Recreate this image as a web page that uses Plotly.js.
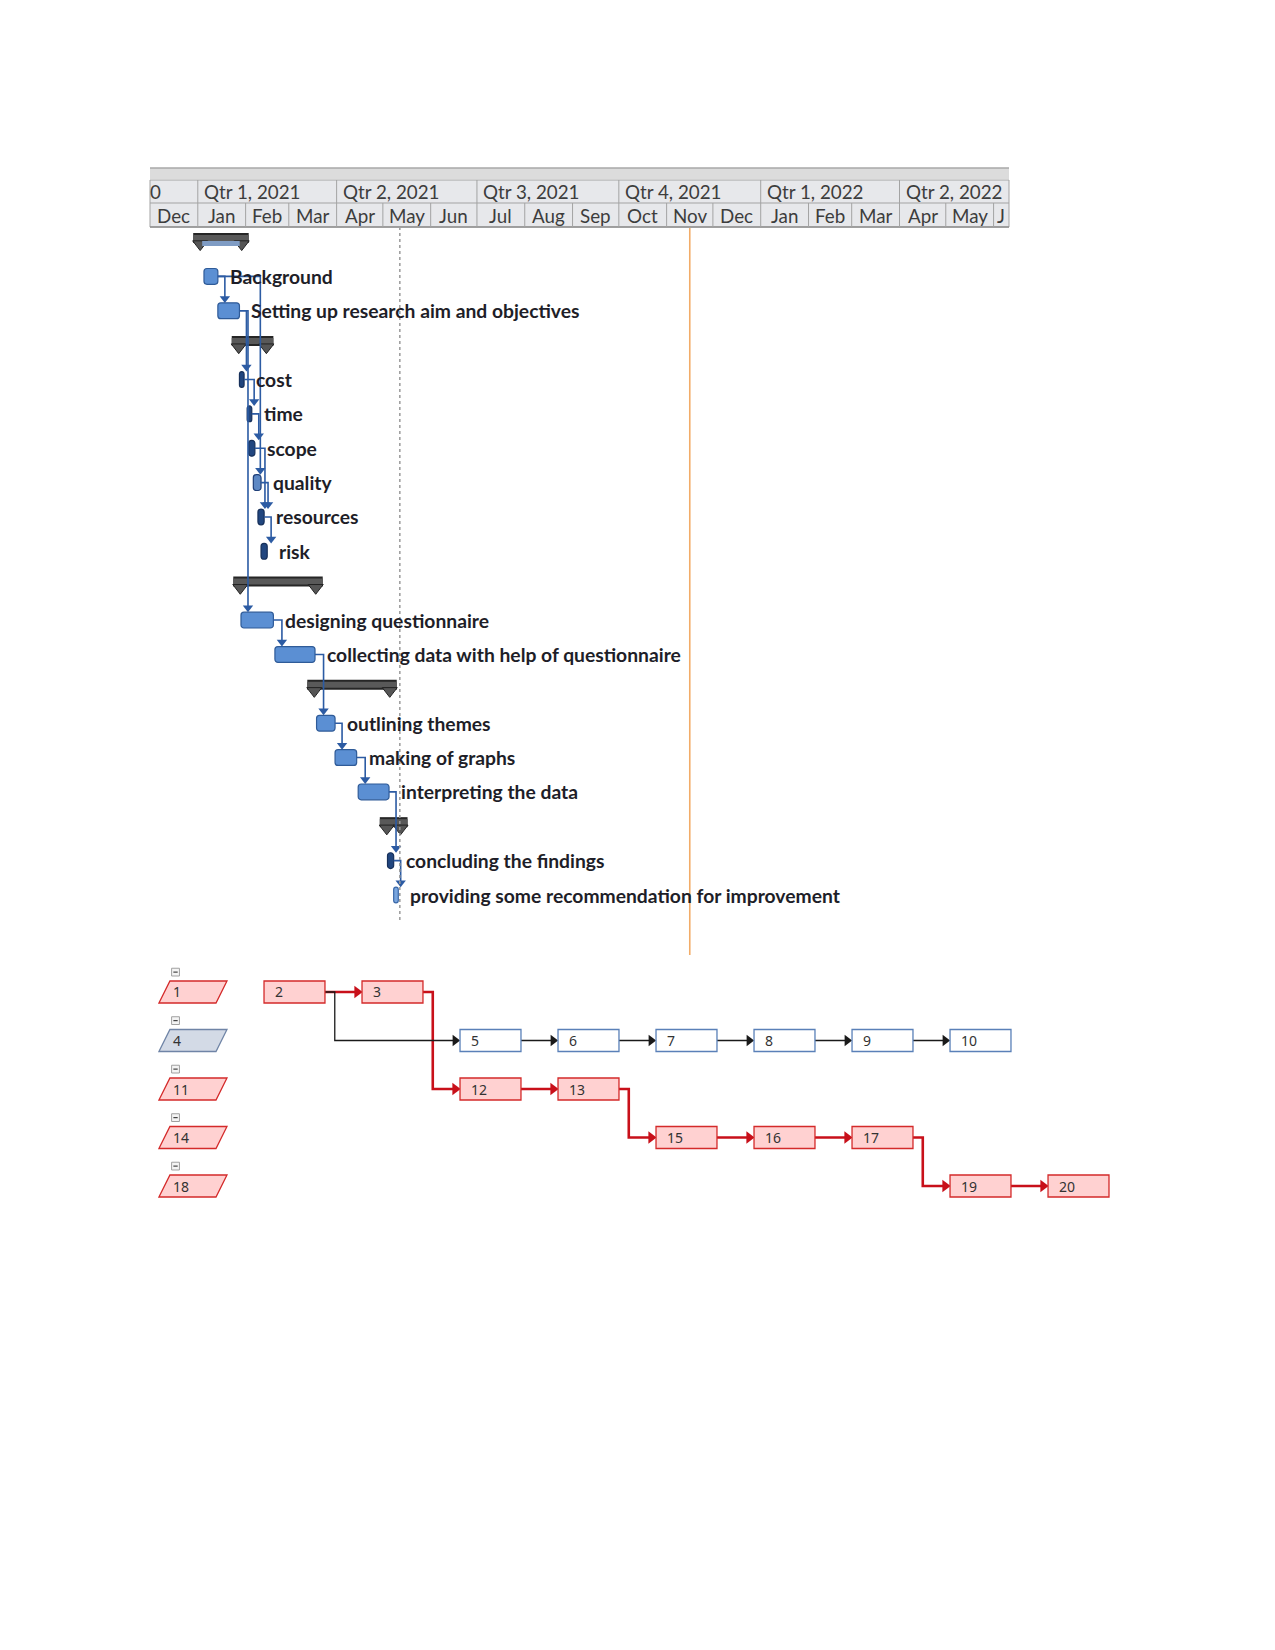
<!DOCTYPE html>
<html><head><meta charset="utf-8">
<script src="https://cdn.plot.ly/plotly-3.0.1.min.js"></script>
<style>html,body{margin:0;padding:0;background:#fff}#chart{width:1275px;height:1650px}</style>
</head><body><div id="chart"></div>
<script>
// ---------------- timescale ----------------
const viewStart = '2020-12-01';
const viewEnd = '2022-06-11';
const quarterStarts = ['2020-10-01','2021-01-01','2021-04-01','2021-07-01','2021-10-01','2022-01-01','2022-04-01','2022-07-01'];
const quarterLabels = ['0','Qtr 1, 2021','Qtr 2, 2021','Qtr 3, 2021','Qtr 4, 2021','Qtr 1, 2022','Qtr 2, 2022'];
const monthStarts = ['2020-12-01','2021-01-01','2021-02-01','2021-03-01','2021-04-01','2021-05-01','2021-06-01','2021-07-01','2021-08-01','2021-09-01','2021-10-01','2021-11-01','2021-12-01','2022-01-01','2022-02-01','2022-03-01','2022-04-01','2022-05-01','2022-06-01','2022-07-01'];
const monthLabels = ['Dec','Jan','Feb','Mar','Apr','May','Jun','Jul','Aug','Sep','Oct','Nov','Dec','Jan','Feb','Mar','Apr','May','J'];
const statusDate = '2021-05-12';
const currentDate = '2021-11-16';

// ---------------- gantt tasks ----------------
const summaryRows  = [0, 3, 10, 13, 17];
const summaryStart = ['2020-12-29','2021-01-23','2021-01-24','2021-03-13','2021-04-29'];
const summaryEnd   = ['2021-02-03','2021-02-19','2021-03-23','2021-05-10','2021-05-17'];
const summaryProgressEnd = ['2021-02-03', null, null, null, null];

const taskRows  = [1, 2, 4, 5, 6, 7, 8, 9, 11, 12, 14, 15, 16, 18, 19];
const taskNames = ['Background','Setting up research aim and objectives','cost','time','scope','quality','resources','risk',
  'designing questionnaire','collecting data with help of questionnaire','outlining themes','making of graphs',
  'interpreting the data','concluding the findings','providing some recommendation for improvement'];
const taskStart = ['2021-01-05','2021-01-14','2021-01-28','2021-02-02','2021-02-03','2021-02-06','2021-02-09','2021-02-11',
  '2021-01-29','2021-02-20','2021-03-19','2021-03-31','2021-04-15','2021-05-04','2021-05-08'];
const taskEnd   = ['2021-01-14','2021-01-28','2021-01-31','2021-02-05','2021-02-07','2021-02-11','2021-02-13','2021-02-15',
  '2021-02-19','2021-03-18','2021-03-31','2021-04-14','2021-05-05','2021-05-08','2021-05-11'];
const taskStyle = ['std','std','dark','dark','dark','mid','dark','dark','std','std','std','std','std','dark','light'];
// links between rows (predecessor row -> successor row)
const ganttLinks = [[1,2],[1,7],[2,4],[2,11],[4,5],[5,6],[6,8],[7,8],[8,9],[11,12],[12,14],[14,15],[15,16],[16,18],[18,19]];

// ---------------- network diagram ----------------
const nodeIds  = ['1','2','3','4','5','6','7','8','9','10','11','12','13','14','15','16','17','18','19','20'];
const nodeCol  = [0, 1, 2, 0, 3, 4, 5, 6, 7, 8, 0, 3, 4, 0, 5, 6, 7, 0, 8, 9];
const nodeRow  = [0, 0, 0, 1, 1, 1, 1, 1, 1, 1, 2, 2, 2, 3, 3, 3, 3, 4, 4, 4];
const nodeKind = ['groupCrit','crit','crit','group','norm','norm','norm','norm','norm','norm',
  'groupCrit','crit','crit','groupCrit','crit','crit','crit','groupCrit','crit','crit'];
const netLinks = [['2','3',1],['2','5',0],['3','12',1],['5','6',0],['6','7',0],['7','8',0],['8','9',0],['9','10',0],
  ['12','13',1],['13','15',1],['15','16',1],['16','17',1],['17','19',1],['19','20',1]];

// ---------------- helpers ----------------
const ms = s => Date.parse(s.length === 10 ? s + 'T00:00:00Z' : s.replace(' ', 'T') + 'Z');
const ds = m => new Date(m).toISOString().slice(0, 19).replace('T', ' ');
const W = 1275, H = 1650;
const gL = 150, gR = 1009;                 // gantt x domain in px
const gTop = 226, gBot = 955;              // gantt y domain in px
const pxPerMs = (gR - gL) / (ms(viewEnd) - ms(viewStart));
const pxToMs = p => p / pxPerMs;
const py = p => 1 - p / H;

const traces = [];
const shapes = [];
const annotations = [];

// ---- header ----
const hdrFont = {family: 'Lato, "Open Sans", sans-serif', size: 18.8, color: '#3d3d3d'};
shapes.push({type:'rect', xref:'paper', yref:'paper', x0:gL/W, x1:gR/W, y0:py(179), y1:py(168), fillcolor:'#dcdcdc', line:{width:0}, layer:'below'});
shapes.push({type:'line', xref:'paper', yref:'paper', x0:gL/W, x1:gR/W, y0:py(168), y1:py(168), line:{color:'#a8a8a8', width:1.5}});
shapes.push({type:'rect', xref:'paper', yref:'paper', x0:gL/W, x1:gR/W, y0:py(227), y1:py(180), fillcolor:'#e7e8eb', line:{color:'#a3a3a3', width:1}, layer:'below'});
shapes.push({type:'line', xref:'paper', yref:'paper', x0:gL/W, x1:gR/W, y0:py(203), y1:py(203), line:{color:'#a3a3a3', width:1}});
shapes.push({type:'line', xref:'paper', yref:'paper', x0:gL/W, x1:gR/W, y0:py(227), y1:py(227), line:{color:'#8f8f8f', width:1.5}});
const vS = ms(viewStart), vE = ms(viewEnd);
for (let i = 0; i < quarterLabels.length; i++) {
  const s = ms(quarterStarts[i]);
  if (s > vS && s < vE) shapes.push({type:'line', xref:'x', yref:'paper', x0:quarterStarts[i], x1:quarterStarts[i], y0:py(203), y1:py(180), line:{color:'#a3a3a3', width:1}});
  annotations.push({xref:'x', yref:'paper', x: ds(Math.max(s, vS)), y: py(191.5), text: quarterLabels[i], showarrow:false,
    xanchor:'left', yanchor:'middle', xshift: s < vS ? -2 : 4, font: hdrFont});
}
for (let i = 0; i < monthLabels.length; i++) {
  const s = ms(monthStarts[i]), e = ms(monthStarts[i + 1]);
  if (s > vS && s < vE) shapes.push({type:'line', xref:'x', yref:'paper', x0:monthStarts[i], x1:monthStarts[i], y0:py(227), y1:py(203), line:{color:'#a3a3a3', width:1}});
  const a = Math.max(s, vS), b = Math.min(e, vE);
  annotations.push({xref:'x', yref:'paper', x: ds((a + b) / 2), y: py(215.5), text: monthLabels[i], showarrow:false,
    xanchor:'center', yanchor:'middle', font: hdrFont});
}

// ---- vertical status lines ----
shapes.push({type:'line', xref:'x', yref:'paper', x0:statusDate, x1:statusDate, y0:py(920), y1:py(228), line:{color:'#9a9a9a', width:1.5, dash:'dot'}});
shapes.push({type:'line', xref:'x', yref:'paper', x0:currentDate, x1:currentDate, y0:py(955), y1:py(228), line:{color:'#f2ac68', width:1.6}});

// ---- summary bars ----
{
  const xs = [], ys = [], cx = [], cy = [], px = [], pyy = [];
  for (let i = 0; i < summaryRows.length; i++) {
    xs.push(summaryStart[i], summaryEnd[i], null);
    ys.push(summaryRows[i] - 0.12, summaryRows[i] - 0.12, null);
    cx.push(ds(ms(summaryStart[i]) + pxToMs(7)), ds(ms(summaryEnd[i]) - pxToMs(7)));
    cy.push(summaryRows[i] + 0.06, summaryRows[i] + 0.06);
    if (summaryProgressEnd[i]) {
      px.push(ds(ms(summaryStart[i]) + pxToMs(9)), ds(ms(summaryProgressEnd[i]) - pxToMs(9)), null);
      pyy.push(summaryRows[i] + 0.04, summaryRows[i] + 0.04, null);
    }
  }
  traces.push({type:'scatter', mode:'lines', x:xs, y:ys, xaxis:'x', yaxis:'y', line:{color:'#262626', width:10}, hoverinfo:'skip'});
  traces.push({type:'scatter', mode:'lines', x:xs, y:ys, xaxis:'x', yaxis:'y', line:{color:'#595959', width:6}, hoverinfo:'skip'});
  traces.push({type:'scatter', mode:'markers', x:cx, y:cy, xaxis:'x', yaxis:'y',
    marker:{symbol:'triangle-down', size:13, color:'#555555', line:{color:'#222222', width:1}}, hoverinfo:'skip'});
  traces.push({type:'scatter', mode:'lines', x:px, y:pyy, xaxis:'x', yaxis:'y', line:{color:'#7f9cc4', width:5}, hoverinfo:'skip'});
}

// ---- links (gantt) ----
{
  const rowIdx = {};
  taskRows.forEach((r, i) => rowIdx[r] = i);
  const xs = [], ys = [], ax = [], ay = [];
  ganttLinks.forEach(([p, s]) => {
    const pi = rowIdx[p], si = rowIdx[s];
    const pe = ms(taskEnd[pi]), ss = ms(taskStart[si]);
    const vx = ds(Math.max(pe, ss) + pxToMs(7));
    xs.push(taskEnd[pi], vx, vx, null);
    ys.push(p, p, s - 0.36, null);
    ax.push(vx); ay.push(s - 0.36);
  });
  traces.push({type:'scatter', mode:'lines', x:xs, y:ys, xaxis:'x', yaxis:'y', line:{color:'#2c5ba3', width:1.6}, hoverinfo:'skip'});
  traces.push({type:'scatter', mode:'markers', x:ax, y:ay, xaxis:'x', yaxis:'y', marker:{symbol:'triangle-down', size:9, color:'#2c5ba3'}, hoverinfo:'skip'});
}

// ---- task bars ----
const barStyles = {
  std:  {fill:'#5b8fd3', line:'#2f5b98'},
  dark: {fill:'#21467f', line:'#17305a'},
  mid:  {fill:'#5d88c4', line:'#1f3f78'},
  light:{fill:'#7aa6de', line:'#3a68a8'}
};
Object.keys(barStyles).forEach(k => {
  const idx = taskStyle.map((s, i) => s === k ? i : -1).filter(i => i >= 0);
  if (!idx.length) return;
  traces.push({type:'bar', orientation:'h', xaxis:'x', yaxis:'y',
    y: idx.map(i => taskRows[i]),
    base: idx.map(i => taskStart[i]),
    x: idx.map(i => ms(taskEnd[i]) - ms(taskStart[i])),
    width: 0.46,
    marker:{color: barStyles[k].fill, line:{color: barStyles[k].line, width:1.2}, cornerradius: 3},
    hoverinfo:'skip'});
});
taskNames.forEach((n, i) => {
  annotations.push({xref:'x', yref:'y', x: taskEnd[i], y: taskRows[i], text: n, showarrow:false,
    xanchor:'left', yanchor:'middle', xshift: 10,
    font:{family:'Lato, "Open Sans", sans-serif', size:19.3, color:'#1e1e28', weight:'bold'}});
});

// ---- network diagram ----
const HW = 0.311, HH = 0.227;
const nodeStyles = {
  crit:      {fill:'#ffd1d1', line:'#d42a2a'},
  norm:      {fill:'#ffffff', line:'#5a80b8'},
  groupCrit: {fill:'#ffd1d1', line:'#d42a2a'},
  group:     {fill:'#d3dae6', line:'#6f84a6'}
};
const netFont = {family:'"Noto Sans", sans-serif', size:14, color:'#333333'};
nodeIds.forEach((id, i) => {
  const c = nodeCol[i], r = nodeRow[i], st = nodeStyles[nodeKind[i]];
  if (nodeKind[i].startsWith('group')) {
    const cc = c - 0.036, hw = 0.347, sk = 0.112;
    shapes.push({type:'path', xref:'x2', yref:'y2',
      path:`M ${cc-hw},${r+HH} L ${cc-hw+sk},${r-HH} L ${cc+hw},${r-HH} L ${cc+hw-sk},${r+HH} Z`,
      fillcolor: st.fill, line:{color: st.line, width:1.3}});
    annotations.push({xref:'x2', yref:'y2', x: cc - 0.22, y: r, text: id, showarrow:false, xanchor:'left', yanchor:'middle', font: netFont});
    // collapse (minus) box
    const mx = c - 0.214, my = r - 0.41;
    shapes.push({type:'rect', xref:'x2', yref:'y2', x0:mx-0.04, x1:mx+0.04, y0:my-0.08, y1:my+0.08, fillcolor:'#f4f4f4', line:{color:'#a0a0a0', width:1}});
    shapes.push({type:'line', xref:'x2', yref:'y2', x0:mx-0.022, x1:mx+0.022, y0:my, y1:my, line:{color:'#444', width:1.2}});
  } else {
    shapes.push({type:'rect', xref:'x2', yref:'y2', x0:c-HW, x1:c+HW, y0:r-HH, y1:r+HH,
      fillcolor: st.fill, line:{color: st.line, width:1.3}});
    annotations.push({xref:'x2', yref:'y2', x: c - HW + 0.095, y: r, text: id, showarrow:false, xanchor:'left', yanchor:'middle', font: netFont});
  }
});
{
  const pos = {};
  nodeIds.forEach((id, i) => pos[id] = [nodeCol[i], nodeRow[i]]);
  [1, 0].forEach(crit => {
    const xs = [], ys = [], ax = [], ay = [];
    netLinks.filter(l => l[2] === crit).forEach(([a, b]) => {
      const [ac, ar] = pos[a], [bc, br] = pos[b];
      const sx = ac + HW, tx = bc - HW - 0.05;
      if (ar === br) { xs.push(sx, tx, null); ys.push(ar, br, null); }
      else { const k = sx + 0.1; xs.push(sx, k, k, tx, null); ys.push(ar, ar, br, br, null); }
      ax.push(tx); ay.push(br);
    });
    const col = crit ? '#c8101a' : '#1a1a1a';
    traces.push({type:'scatter', mode:'lines', x:xs, y:ys, xaxis:'x2', yaxis:'y2', line:{color:col, width: crit ? 2.6 : 1.3}, hoverinfo:'skip'});
    traces.push({type:'scatter', mode:'markers', x:ax, y:ay, xaxis:'x2', yaxis:'y2', marker:{symbol:'triangle-right', size: crit ? 11 : 10, color:col}, hoverinfo:'skip'});
  });
}

const layout = {
  width: W, height: H, margin:{l:0, r:0, t:0, b:0}, paper_bgcolor:'#ffffff', plot_bgcolor:'rgba(0,0,0,0)',
  showlegend:false, barmode:'overlay',
  xaxis:{type:'date', domain:[gL/W, gR/W], range:[viewStart, viewEnd], visible:false, fixedrange:true},
  yaxis:{domain:[py(gBot), py(gTop)], range:[20.745, -0.466], visible:false, fixedrange:true},
  xaxis2:{domain:[0, 1], range:[-2.005, 11.005], anchor:'y2', visible:false, fixedrange:true},
  yaxis2:{domain:[py(1215), py(955)], range:[4.598, -0.763], anchor:'x2', visible:false, fixedrange:true},
  shapes, annotations
};
Plotly.newPlot('chart', traces, layout, {staticPlot:true, displayModeBar:false});
</script></body></html>
